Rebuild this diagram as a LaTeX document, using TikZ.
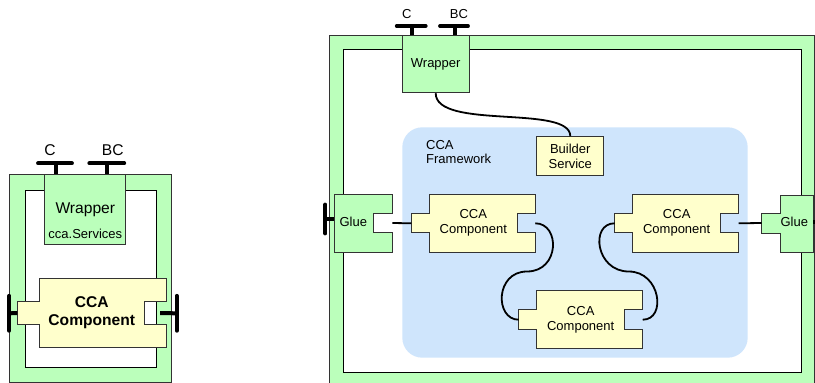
\documentclass[tikz,border=0pt]{standalone}
\usepackage{fontspec}
\setmainfont{Liberation Sans}
\usetikzlibrary{calc}

\definecolor{gluegreen}{HTML}{BBFFBB}
\definecolor{compyellow}{HTML}{FFFFCC}
\definecolor{fwblue}{HTML}{CFE5FC}
\definecolor{edge}{HTML}{333333}

\tikzset{
  box/.style={draw=edge,line width=1pt},
  greenbox/.style={box,fill=gluegreen},
  yellowbox/.style={box,fill=compyellow},
  lbl/.style={font=\fontsize{13}{15}\selectfont,align=center,inner sep=0pt},
  biglbl/.style={font=\fontsize{15.6}{18}\selectfont,align=center,inner sep=0pt},
  wire/.style={line width=1.8pt,black},
  stem/.style={line width=4pt,black},
  bar/.style={line width=3.8pt,black,line cap=round},
  ccacomp/.pic={
    \draw[yellowbox] (0,0) -- (106,0) -- (106,19) -- (88,19) -- (88,38.5)
      -- (106,38.5) -- (106,58) -- (0,58) -- (0,38.5) -- (-18,38.5)
      -- (-18,19) -- (0,19) -- cycle;
    \coordinate (-in) at (-18,29);
    \coordinate (-out) at (106,29);
    \coordinate (-mid) at (44,29);
  }
}

\begin{document}
\begin{tikzpicture}[x=1pt,y=-1pt]
\useasboundingbox (0,0) rectangle (815,383);

% left: one component inside its wrapper
\draw[greenbox] (9.3,174.3) rectangle (171.7,382.3);
\draw[box,draw=black,fill=white] (25,190) rectangle (156.7,367.7);
\node[greenbox,minimum width=80.7pt,minimum height=69.7pt] (wrapL) at (85.3,209.2) {};
\node[biglbl] (wrapLname) at (85.3,210) {Wrapper};
\node[lbl] (wrapLsvc) at (85.3,234) {cca.Services};
\pic[scale=1.2] (compL) at (39,278.3) {ccacomp};
\node[biglbl,font=\bfseries\fontsize{15.6}{18}\selectfont] (compLname) at (compL-mid) {CCA\\Component};

\coordinate (portLC) at (56,163.3);
\coordinate (portLBC) at (107.3,163.3);
\draw[stem] (portLC |- wrapL.north) -- (portLC);
\draw[bar] ($(portLC)+(-18,0)$) -- ($(portLC)+(16,0)$);
\draw[stem] (portLBC |- wrapL.north) -- (portLBC);
\draw[bar] ($(portLBC)+(-18,0)$) -- ($(portLBC)+(17,0)$);
\node[biglbl] (lblLC) at (50,150) {C};
\node[biglbl] (lblLBC) at (112.7,150) {BC};

\coordinate (portLin) at (9.3,313.3);
\coordinate (portLout) at (176.7,313.3);
\draw[stem] (compL-in) -- (portLin);
\draw[bar] ($(portLin)+(0,-17.5)$) -- ($(portLin)+(0,17.5)$);
\draw[stem] ($(compL-out)+(-6,0)$) -- (portLout);
\draw[bar] ($(portLout)+(0,-17.5)$) -- ($(portLout)+(0,17.5)$);

% right: framework inside the wrapper
\draw[greenbox] (329.3,35.7) rectangle (814.3,386);
\draw[box,draw=black,fill=white] (343.3,49.3) rectangle (801.7,372.3);
\fill[fwblue,rounded corners=20pt] (402.3,127.3) rectangle (747.7,357.7);
\node[lbl,align=left,anchor=north west,font=\fontsize{13}{14.5}\selectfont] (fwname) at (426,140.2) {CCA\\Framework};

\node[greenbox,lbl,minimum width=66.7pt,minimum height=57pt] (wrapR) at (435.7,64.2) {Wrapper};
\node[yellowbox,lbl,minimum width=67.3pt,minimum height=39pt] (builder) at (570.3,156.2) {Builder\\Service};

\draw[greenbox] (334.3,194.3) -- (392.3,194.3) -- (392.3,213.3) -- (373.3,213.3)
  -- (373.3,232.7) -- (392.3,232.7) -- (392.3,252) -- (334.3,252) -- cycle;
\node[lbl] (glueL) at (353.3,221.7) {Glue};
\coordinate (glueL-out) at (392.3,223);

\draw[greenbox] (780,195) -- (813.3,195) -- (813.3,252.3) -- (780,252.3)
  -- (780,233.3) -- (761.7,233.3) -- (761.7,213.3) -- (780,213.3) -- cycle;
\node[lbl] (glueR) at (794.3,221.7) {Glue};
\coordinate (glueR-in) at (761.7,223);

\pic (comp1) at (429.3,194.3) {ccacomp};
\pic (comp2) at (632.7,194.3) {ccacomp};
\pic (comp3) at (536.7,290.7) {ccacomp};
\node[lbl] (comp1name) at (comp1-mid) {CCA\\Component};
\node[lbl] (comp2name) at (comp2-mid) {CCA\\Component};
\node[lbl] (comp3name) at (comp3-mid) {CCA\\Component};

\draw[wire] (wrapR.south) .. controls +(0,37) and +(0,-32) .. (builder.north);
\draw[wire] (glueL-out) -- (comp1-in);
\draw[wire] (comp2-out) -- (glueR-in);
\draw[wire] (comp1-out) .. controls +(25,0) and +(33,0) .. ($(comp1-out)!0.5!(comp3-in)$)
  .. controls +(-32,0) and +(-24,0) .. (comp3-in);
\draw[wire] (comp2-in) .. controls +(-25,0) and +(-33,0) .. ($(comp2-in)!0.5!(comp3-out)$)
  .. controls +(32,0) and +(24,0) .. (comp3-out);

% ports of the right wrapper
\coordinate (portRC) at (411.7,26);
\coordinate (portRBC) at (455,26);
\draw[stem] (portRC |- wrapR.north) -- (portRC);
\draw[bar] ($(portRC)+(-15,0)$) -- ($(portRC)+(14,0)$);
\draw[stem] (portRBC |- wrapR.north) -- (portRBC);
\draw[bar] ($(portRBC)+(-15,0)$) -- ($(portRBC)+(13,0)$);
\node[lbl] (lblRC) at (406.7,14) {C};
\node[lbl] (lblRBC) at (459,14) {BC};

\coordinate (portGL) at (325.3,219);
\draw[stem] (portGL -| 334.3,0) -- (portGL);
\draw[bar] ($(portGL)+(0,-14.5)$) -- ($(portGL)+(0,14.5)$);
\coordinate (portGR) at (826,221.7);
\draw[stem] (portGR -| 813.3,0) -- (portGR);
\end{tikzpicture}
\end{document}
